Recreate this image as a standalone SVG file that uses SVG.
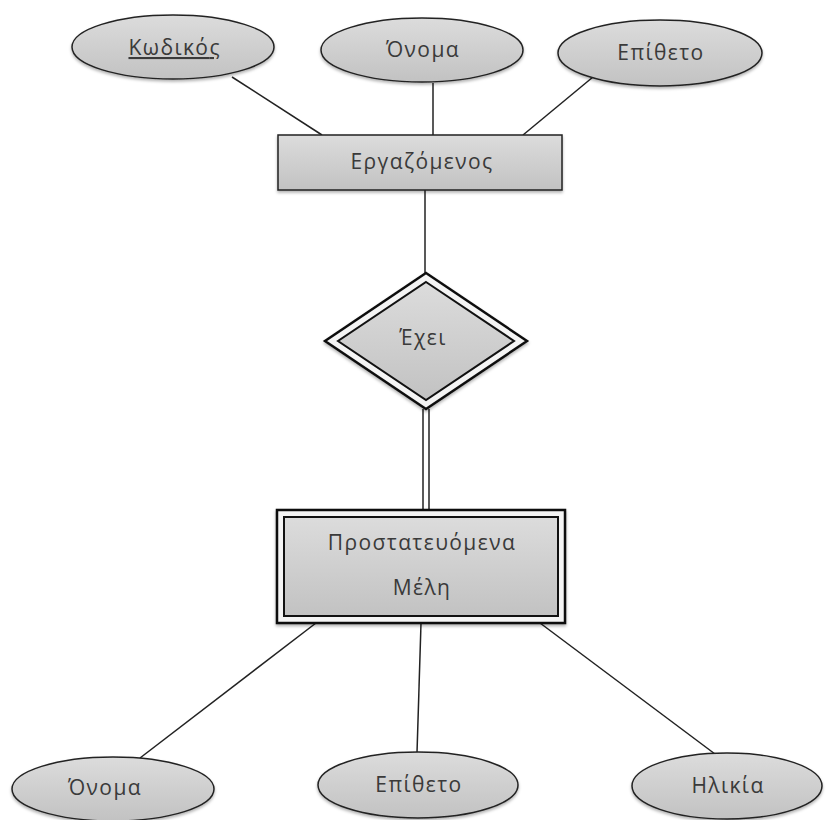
<svg xmlns="http://www.w3.org/2000/svg" width="837" height="820" viewBox="0 0 837 820">
<defs>
<linearGradient id="g" x1="0" y1="0" x2="0" y2="1">
<stop offset="0" stop-color="#dcdcdc"/>
<stop offset="1" stop-color="#c2c2c2"/>
</linearGradient>
<filter id="sh" x="-10%" y="-10%" width="120%" height="130%">
<feDropShadow dx="0" dy="2" stdDeviation="1.5" flood-color="#000" flood-opacity="0.3"/>
</filter>
</defs>
<style>
.shape{fill:url(#g);stroke:#222;stroke-width:1.5;filter:url(#sh)}
.outer{fill:#f4f4f4;stroke:#111;stroke-width:2.5;filter:url(#sh)}
.inner{fill:url(#g);stroke:#111;stroke-width:2}
.lbl{font-family:"Open Sans","DejaVu Sans",sans-serif;font-size:21px;fill:#3a3a3a;text-anchor:middle;letter-spacing:1.4px}
.edge{stroke:#222;stroke-width:1.5;fill:none}
</style>
<rect width="837" height="820" fill="#fff"/>
<g id="connectors">
<line class="edge" x1="232" y1="77" x2="322" y2="135"/>
<line class="edge" x1="433" y1="83" x2="433" y2="135"/>
<line class="edge" x1="593" y1="77" x2="523" y2="135"/>
<line class="edge" x1="425" y1="190" x2="425" y2="273"/>
<line class="edge" x1="423" y1="409" x2="423" y2="510"/>
<line class="edge" x1="429" y1="409" x2="429" y2="510"/>
<line class="edge" x1="316" y1="623" x2="140" y2="758"/>
<line class="edge" x1="421" y1="623" x2="417" y2="753"/>
<line class="edge" x1="540" y1="623" x2="715" y2="754"/>
</g>
<g id="kodikos">
<ellipse class="shape" cx="173" cy="47" rx="101" ry="32"/>
<text class="lbl" x="174" y="55" text-decoration="underline">Κωδικό<tspan letter-spacing="0">ς</tspan></text>
</g>
<g id="onoma1">
<ellipse class="shape" cx="422" cy="50" rx="101" ry="32"/>
<text class="lbl" x="423" y="57">Όνομα</text>
</g>
<g id="epitheto1">
<ellipse class="shape" cx="660" cy="53" rx="102" ry="33"/>
<text class="lbl" x="661" y="60">Επίθετο</text>
</g>
<g id="ergazomenos">
<rect class="shape" x="278" y="135" width="284" height="55"/>
<text class="lbl" x="422" y="169">Εργαζόμενος</text>
</g>
<g id="exei">
<polygon class="outer" points="426,273 527,341 426,409 325,341"/>
<polygon class="inner" points="426,282 514,341 426,400 338,341"/>
<text class="lbl" x="423" y="345">Έχει</text>
</g>
<g id="prostateuomena">
<rect class="outer" x="277" y="510" width="288" height="113"/>
<rect class="inner" x="284" y="517" width="274" height="99"/>
<text class="lbl" x="422" y="550">Προστατευόμενα</text>
<text class="lbl" x="422" y="595">Μέλη</text>
</g>
<g id="onoma2">
<ellipse class="shape" cx="113" cy="789" rx="101" ry="32"/>
<text class="lbl" x="105" y="795">Όνομα</text>
</g>
<g id="epitheto2">
<ellipse class="shape" cx="418" cy="785" rx="100" ry="33"/>
<text class="lbl" x="419" y="792">Επίθετο</text>
</g>
<g id="ilikia">
<ellipse class="shape" cx="727" cy="786" rx="95" ry="33"/>
<text class="lbl" x="728" y="793">Ηλικία</text>
</g>
</svg>
